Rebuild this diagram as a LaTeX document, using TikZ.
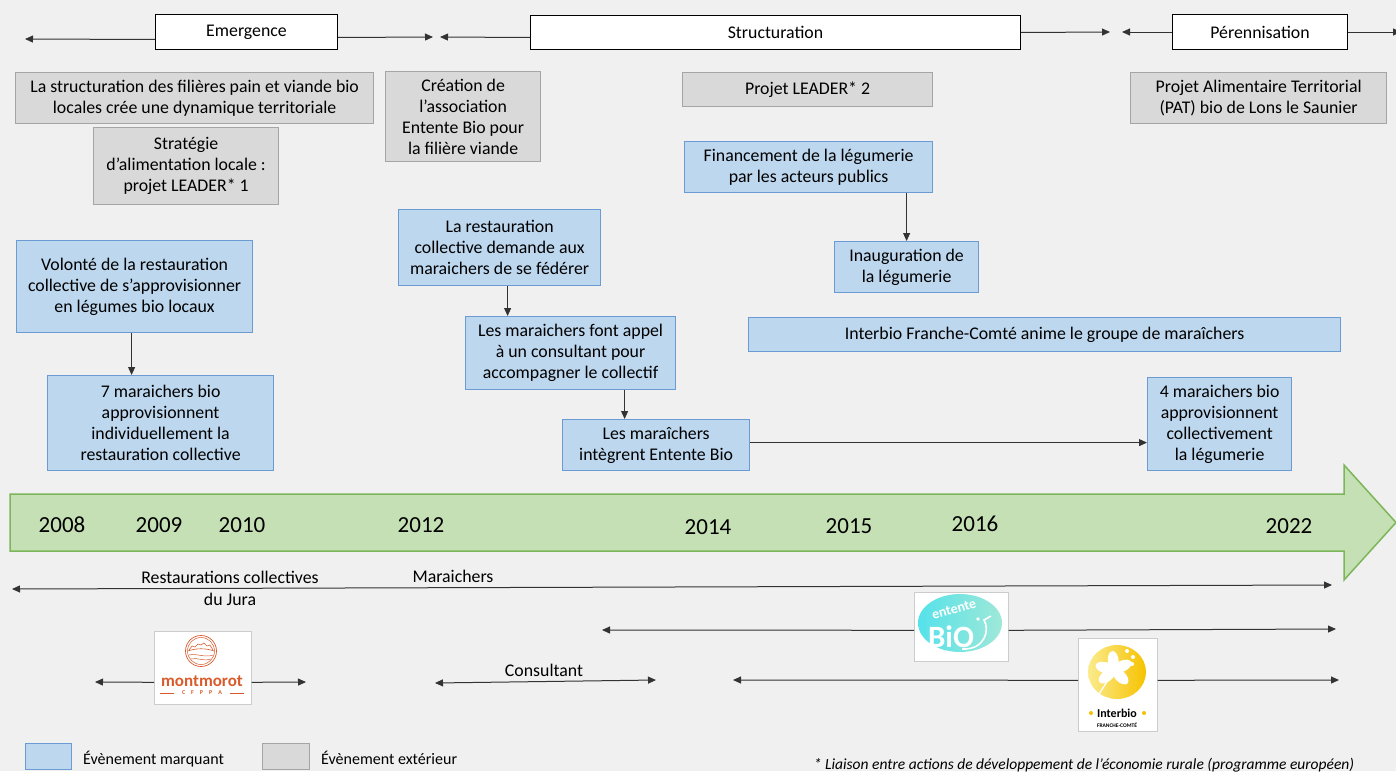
\documentclass[tikz,border=0pt]{standalone}
\usepackage{fontspec}
\setmainfont{Carlito}
\usetikzlibrary{arrows.meta}
\definecolor{bg}{HTML}{F0F0F0}
\definecolor{bluef}{HTML}{BDD7EE}
\definecolor{blueb}{HTML}{6A9BD2}
\definecolor{grayf}{HTML}{D9D9D9}
\definecolor{grayb}{HTML}{A5A5A5}
\definecolor{greenf}{HTML}{C5E0B4}
\definecolor{greenb}{HTML}{7DB55A}
\definecolor{lineg}{HTML}{333333}
\definecolor{montc}{HTML}{D95B2C}
\definecolor{entA}{HTML}{55E2EA}
\definecolor{entB}{HTML}{9FE8D8}
\definecolor{ibA}{HTML}{FBEB8C}
\definecolor{ibB}{HTML}{F6C200}
\newcommand\bx[7]{\node[#1, minimum width=#5pt-#3pt, minimum height=#6pt-#4pt] (#2) at (#3,#4) {#7};}
\tikzset{
  boxbase/.style={align=center, inner sep=0pt, anchor=north west, text=black},
  bluebox/.style={boxbase, draw=blueb, fill=bluef, line width=1.2pt},
  graybox/.style={boxbase, draw=grayb, fill=grayf, line width=1.2pt},
  phasebox/.style={boxbase, draw=black, fill=white, line width=1pt},
  logobox/.style={boxbase, draw=black!20, fill=white, line width=0.6pt},
  arr/.style={-{Triangle[length=8pt,width=7pt]}, draw=lineg, line width=1pt},
  darr/.style={{Triangle[length=8pt,width=7pt]}-{Triangle[length=8pt,width=7pt]}, draw=lineg, line width=1pt},
  yearlbl/.style={font=\fontsize{23}{23}\selectfont, inner sep=0pt},
  lbl/.style={inner sep=0pt},
  legendlbl/.style={font=\fontsize{16}{16}\selectfont, inner sep=0pt, anchor=base west},
}
\begin{document}
\begin{tikzpicture}[x=1pt,y=-1pt, font=\fontsize{17.8}{21}\selectfont]
\useasboundingbox (0,0) rectangle (1396,771);
\fill[bg] (0,0) rectangle (1396,771);

% big timeline arrow
\draw[fill=greenf, draw=greenb, line width=1.5pt]
  (10,494) -- (1344,494) -- (1344,465) -- (1396,522.5) -- (1344,580) -- (1344,551) -- (10,551) -- cycle;
\node[yearlbl] (y2008) at (62,525) {2008};
\node[yearlbl] (y2009) at (159,525) {2009};
\node[yearlbl] (y2010) at (242,525) {2010};
\node[yearlbl] (y2012) at (421,525) {2012};
\node[yearlbl] (y2014) at (708,527) {2014};
\node[yearlbl] (y2015) at (849,526) {2015};
\node[yearlbl] (y2016) at (975,524) {2016};
\node[yearlbl] (y2022) at (1289,526) {2022};

% phases
\bx{phasebox}{emer}{155}{14}{337}{49}{Emergence}
\bx{phasebox}{struc}{530}{15}{1020}{49}{Structuration}
\bx{phasebox}{peren}{1172}{14}{1347}{49}{Pérennisation}
\coordinate (t0) at (25,39);
\coordinate (t1) at (433,37);
\coordinate (t2) at (440,37);
\coordinate (t3) at (1110,32);
\coordinate (t4) at (1122,32);
\coordinate (t5) at (1401,32);
\draw[arr] ([yshift=-7.5pt]emer.west) -- (t0);
\draw[arr] ([yshift=-5.5pt]emer.east) -- (t1);
\draw[arr] ([yshift=-5pt]struc.west) -- (t2);
\draw[arr] (struc.east) -- (t3);
\draw[arr] (peren.west) -- (t4);
\draw[arr] (peren.east) -- (t5);

% external events
\bx{graybox}{dyn}{15}{72}{373}{123}{La structuration des filières pain et viande bio\\locales crée une dynamique territoriale}
\bx{graybox}{strat}{93}{127}{278}{204}{Stratégie\\d’alimentation locale :\\projet LEADER* 1}
\bx{graybox}{creat}{385}{71}{540}{161}{Création de\\l’association\\Entente Bio pour\\la filière viande}
\bx{graybox}{lead2}{682}{72}{932}{106}{Projet LEADER* 2}
\bx{graybox}{pat}{1130}{72}{1386}{123}{Projet Alimentaire Territorial\\(PAT) bio de Lons le Saunier}

% key events
\bx{bluebox}{fin}{684}{141}{932}{192}{Financement de la légumerie\\par les acteurs publics}
\bx{bluebox}{inaug}{834}{241}{978}{292}{Inauguration de\\la légumerie}
\bx{bluebox}{ibanim}{748}{317}{1340}{351}{Interbio Franche-Comté anime le groupe de maraîchers}
\bx{bluebox}{vol}{16}{240}{252}{332}{Volonté de la restauration\\collective de s’approvisionner\\en légumes bio locaux}
\bx{bluebox}{mar7}{47}{375}{273}{470}{7 maraichers bio\\approvisionnent\\individuellement la\\restauration collective}
\bx{bluebox}{rest}{398}{209}{600}{285}{La restauration\\collective demande aux\\maraichers de se fédérer}
\bx{bluebox}{cons}{465}{316}{675}{389}{Les maraichers font appel\\à un consultant pour\\accompagner le collectif}
\bx{bluebox}{integ}{562}{419}{749}{470}{Les maraîchers\\intègrent Entente Bio}
\bx{bluebox}{mar4}{1147}{377}{1291}{470}{4 maraichers bio\\approvisionnent\\collectivement\\la légumerie}

\draw[arr] ([xshift=-3pt]vol.south) -- ([xshift=-3pt]vol.south |- mar7.north);
\draw[arr] ([xshift=8pt]rest.south) -- ([xshift=8pt]rest.south |- cons.north);
\draw[arr] ([xshift=54pt]cons.south) -- ([xshift=54pt]cons.south |- integ.north);
\draw[arr] (inaug.north |- fin.south) -- (inaug.north);
\draw[arr] ([yshift=2.5pt]integ.east) -- ([yshift=2.5pt]integ.east -| mar4.west);

% actors
\coordinate (b0) at (12,589);
\coordinate (b1) at (1332,585);
\draw[darr] (b0) -- (b1);
\node[lbl, align=center] (restlbl) at (230,588) {Restaurations collectives\\[1pt]du Jura};
\node[lbl] (marlbl) at (453,576) {Maraichers};

\coordinate (c0) at (435,683);
\coordinate (c1) at (656,680);
\draw[darr] (c0) -- (c1);
\node[lbl] (conslbl) at (544,670) {Consultant};

% montmorot logo
\bx{logobox}{mont}{154}{631}{251}{704}{}
\coordinate (m0) at (95,682);
\coordinate (m1) at (306,682);
\draw[arr] ([yshift=-14.5pt]mont.west) -- (m0);
\draw[arr] ([yshift=-14.5pt]mont.east) -- (m1);
\draw[montc, line width=0.7pt] (201,651) circle[radius=15.5];
\draw[montc, line width=0.5pt] (201,651) circle[radius=13.5];
\draw[montc, line width=0.6pt] (189,650) -- (192,646) -- (195,647) -- (198,644) -- (201,645) -- (204,643) -- (207,646) -- (210,645) -- (213,650);
\draw[montc, line width=0.6pt] (188,651) .. controls (196,648) and (206,648) .. (214,651);
\draw[montc, line width=0.5pt] (189,655) .. controls (196,653) and (205,658) .. (213,655);
\draw[montc, line width=0.5pt] (191,659) .. controls (197,657) and (205,662) .. (211,659);
\node[lbl, text=montc, font=\fontsize{17}{17}\selectfont\bfseries] (monttxt) at (202,681) {montmorot};
\node[lbl, text=montc, font=\fontsize{6}{6}\selectfont\bfseries] (montsub) at (202,693) {C\hspace{6pt}F\hspace{6pt}P\hspace{6pt}P\hspace{6pt}A};
\draw[montc, line width=0.5pt] (160,693) -- (174,693);
\draw[montc, line width=0.5pt] (230,693) -- (244,693);

% entente bio logo
\bx{logobox}{ent}{914}{592}{1008}{661}{}
\coordinate (e0) at (602,630);
\coordinate (e1) at (1336,629);
\draw[arr] ([yshift=-3.5pt]ent.west) -- (e0);
\draw[arr] ([yshift=-3.5pt]ent.east) -- (e1);
\shade[left color=entA, right color=entB] (960,623) ellipse[x radius=42, y radius=29];
\node[lbl, text=white, font=\fontsize{14}{14}\selectfont\bfseries, rotate=15] (enttxt) at (954,609) {entente};
\node[lbl, text=white, font=\fontsize{31}{31}\selectfont\bfseries] (biotxt) at (951,637) {BiO};
\draw[white, line width=1.6pt] (962,649) .. controls (985,650) and (990,630) .. (984,620) -- (991,616);
\fill[white] (978,619) circle[radius=1.8];

% interbio logo
\bx{logobox}{ib}{1078}{638}{1157}{731}{}
\coordinate (i0) at (733,680);
\coordinate (i1) at (1339,680);
\draw[arr] ([yshift=4.5pt]ib.west) -- (i0);
\draw[arr] ([yshift=4.5pt]ib.east) -- (i1);
\shade[left color=ibA, right color=ibB] (1117,672) ellipse[x radius=29, y radius=27];
\foreach \a in {95,25,-45,-140,165}
  \fill[white, rotate around={\a:(1114,670)}] (1123,670) ellipse[x radius=10, y radius=5.5];
\fill[white] (1114,670) circle[radius=5];
\draw[white, line width=1.3pt] (1110,677) -- (1099,694);
\fill[white] (1127,651) circle[radius=2];
\fill[white] (1133,657) circle[radius=2];
\fill[white] (1132,664) circle[radius=2];
\node[lbl, font=\fontsize{12}{12}\selectfont\bfseries] (ibtxt) at (1117,713) {Interbio};
\fill[ibB] (1091,713) circle[radius=2];
\fill[ibB] (1144,713) circle[radius=2];
\node[lbl, font=\fontsize{5.5}{5.5}\selectfont\bfseries] (ibsub) at (1117,725) {FRANCHE-COMTÉ};

% legend
\bx{bluebox}{legb}{25}{743}{71}{769}{}
\node[legendlbl] (legbt) at (83,764) {Évènement marquant};
\bx{graybox}{legg}{262}{743}{309}{769}{}
\node[legendlbl] (leggt) at (321,764) {Évènement extérieur};

% footnote
\node[lbl, anchor=base, font=\fontsize{15.5}{15.5}\selectfont\itshape] (foot) at (1084,769) {* Liaison entre actions de développement de l’économie rurale (programme européen)};
\end{tikzpicture}
\end{document}
